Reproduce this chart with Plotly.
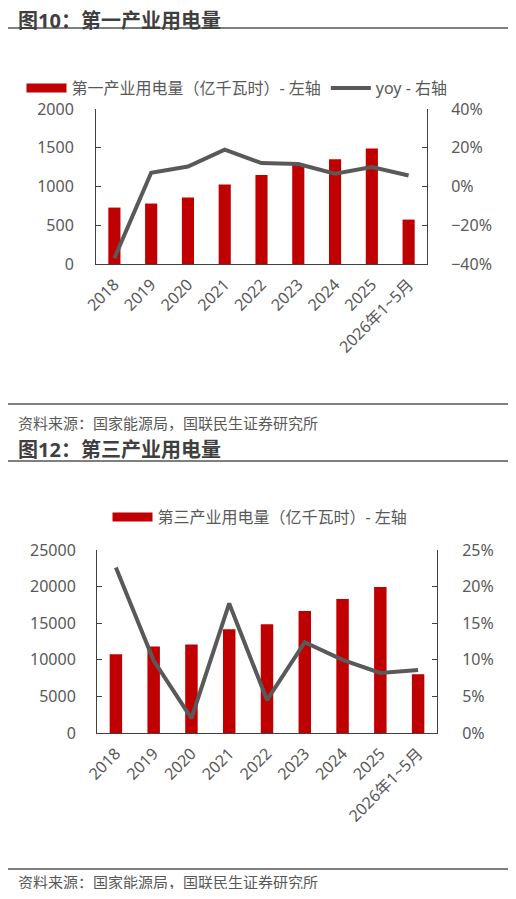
import plotly.graph_objects as go

# x categories shared by both panels
years = ["2018", "2019", "2020", "2021", "2022", "2023", "2024", "2025", "2026年1~5月"]

# 图10: primary industry electricity use (100 million kWh) and yoy (%)
primary_kwh = [728, 780, 858, 1026, 1147, 1285, 1353, 1491, 573]
primary_yoy = [-37.0, 7.1, 10.3, 19.0, 12.1, 11.6, 6.6, 10.0, 5.7]

# 图12: tertiary industry electricity use (100 million kWh) and yoy (%)
tertiary_kwh = [10766, 11816, 12089, 14188, 14872, 16651, 18294, 19936, 8029]
tertiary_yoy = [22.6, 9.9, 2.0, 17.7, 4.5, 12.4, 10.0, 8.2, 8.6]

# the page body has an 8px margin, so the figure is 16px smaller than the window
PAGE_W, PAGE_H, BODY = 516, 899, 8
W, H = PAGE_W - 2 * BODY, PAGE_H - 2 * BODY
RED = "#C00000"
GREY = "#595959"
AXIS = "#404040"
FONT = "Noto Sans, Noto Sans CJK SC, sans-serif"


def px_x(v):
    """Window pixel -> paper x."""
    return max(0.0, min(1.0, (v - BODY) / W))


def px_y(v):
    """Window pixel (from top) -> paper y."""
    return max(0.0, min(1.0, 1 - (v - BODY) / H))


fig = go.Figure()

# Bars are drawn without a legend entry; a thick empty line stands in as the
# wide red legend swatch used in the source charts.
fig.add_trace(go.Scatter(
    x=[None], y=[None], mode="lines", name="第一产业用电量（亿千瓦时）- 左轴",
    line=dict(color=RED, width=9), xaxis="x", yaxis="y", legend="legend",
))
fig.add_trace(go.Bar(
    x=years, y=primary_kwh, name="第一产业用电量（亿千瓦时）- 左轴", showlegend=False,
    marker_color=RED, xaxis="x", yaxis="y",
))
fig.add_trace(go.Scatter(
    x=years, y=primary_yoy, name="yoy - 右轴", mode="lines",
    line=dict(color=GREY, width=4), xaxis="x", yaxis="y2", legend="legend",
))
fig.add_trace(go.Scatter(
    x=[None], y=[None], mode="lines", name="第三产业用电量（亿千瓦时）- 左轴",
    line=dict(color=RED, width=9), xaxis="x2", yaxis="y3", legend="legend2",
))
fig.add_trace(go.Bar(
    x=years, y=tertiary_kwh, name="第三产业用电量（亿千瓦时）- 左轴", showlegend=False,
    marker_color=RED, xaxis="x2", yaxis="y3",
))
fig.add_trace(go.Scatter(
    x=years, y=tertiary_yoy, name="yoy - 右轴", mode="lines", showlegend=False,
    line=dict(color=GREY, width=4), xaxis="x2", yaxis="y4",
))

# no automargin anywhere: the layout is pinned to pixel positions
axis_common = dict(
    showgrid=False, zeroline=False, showline=True, linecolor=AXIS, linewidth=1,
    automargin=False, tickfont=dict(size=16, color=GREY, family=FONT),
)
yaxis_common = dict(axis_common, ticks="inside", ticklen=5, tickcolor=AXIS)
xaxis_common = dict(axis_common, type="category", tickangle=-45, ticks="",
                    ticklabelstandoff=4)
legend_common = dict(orientation="h", xanchor="center", yanchor="middle",
                     itemwidth=40, font=dict(size=16, color=GREY),
                     bgcolor="rgba(0,0,0,0)")

fig.update_layout(
    template="none",
    width=W, height=H,
    margin=dict(l=0, r=0, t=0, b=0, pad=0),
    paper_bgcolor="white", plot_bgcolor="white",
    font=dict(family=FONT, color=GREY),
    bargap=0.67,
    xaxis=dict(xaxis_common, domain=[px_x(96), px_x(427)], anchor="y"),
    yaxis=dict(yaxis_common, domain=[px_y(264), px_y(109)], range=[0, 2000],
               dtick=500, tickformat="d", anchor="x", ticklabelstandoff=18),
    yaxis2=dict(yaxis_common, overlaying="y", side="right", range=[-40, 40],
                dtick=20, ticksuffix="%", anchor="x", ticklabelstandoff=20),
    xaxis2=dict(xaxis_common, domain=[px_x(97), px_x(437)], anchor="y3"),
    yaxis3=dict(yaxis_common, domain=[px_y(733), px_y(550)], range=[0, 25000],
                dtick=5000, tickformat="d", anchor="x2", ticklabelstandoff=17),
    yaxis4=dict(yaxis_common, overlaying="y3", side="right", range=[0, 25],
                dtick=5, ticksuffix="%", anchor="x2", ticklabelstandoff=21),
    legend=dict(legend_common, x=px_x(237), y=px_y(88)),
    legend2=dict(legend_common, x=px_x(260), y=px_y(517)),
)

# section rules
for y in (28, 404, 461, 869):
    fig.add_shape(type="line", xref="paper", yref="paper",
                  x0=px_x(6), x1=px_x(511), y0=px_y(y), y1=px_y(y),
                  line=dict(color="#7F7F7F", width=2))

# titles: the first sits against the top edge of the figure, so its box is
# made shorter than the line to pull the text up above the rule
fig.add_annotation(text="<b>图10：第一产业用电量</b>", xref="paper", yref="paper",
                   x=px_x(16), y=1, xanchor="left", yanchor="top", height=20,
                   showarrow=False, font=dict(size=20, color="#3F3F3F"))
fig.add_annotation(text="<b>图12：第三产业用电量</b>", xref="paper", yref="paper",
                   x=px_x(16), y=px_y(450), xanchor="left", yanchor="middle",
                   showarrow=False, font=dict(size=20, color="#3F3F3F"))

source = "资料来源：国家能源局，国联民生证券研究所"
fig.add_annotation(text=source, xref="paper", yref="paper",
                   x=px_x(16), y=px_y(423), xanchor="left", yanchor="middle",
                   showarrow=False, font=dict(size=15, color=GREY))
fig.add_annotation(text=source, xref="paper", yref="paper",
                   x=px_x(16), y=0, xanchor="left", yanchor="bottom", height=14,
                   showarrow=False, font=dict(size=15, color=GREY))

fig.write_html("out.html")
